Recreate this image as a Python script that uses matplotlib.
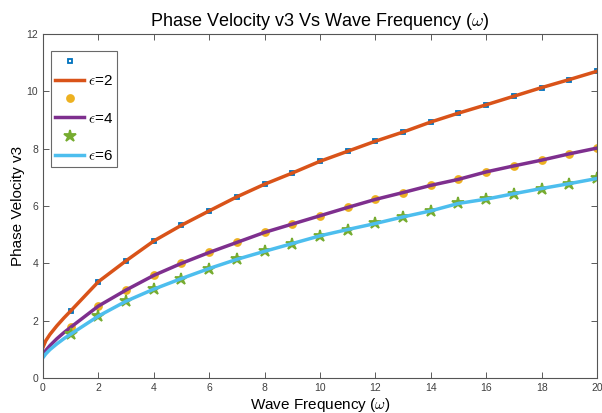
import matplotlib
matplotlib.use("Agg")
import matplotlib.pyplot as plt

plt.rcParams['font.family'] = ['Liberation Sans', 'DejaVu Sans']
plt.rcParams['mathtext.fontset'] = 'cm'

# marker data (integer frequencies)
omega_pts = list(range(1, 21))
v_eps2 = [2.34, 3.36, 4.09, 4.78, 5.33, 5.83, 6.32, 6.76, 7.15, 7.56,
          7.91, 8.26, 8.58, 8.93, 9.24, 9.53, 9.83, 10.13, 10.41, 10.70]
v_eps4 = [1.77, 2.51, 3.07, 3.58, 4.00, 4.38, 4.73, 5.08, 5.37, 5.66,
          5.95, 6.23, 6.47, 6.72, 6.93, 7.19, 7.40, 7.60, 7.82, 8.02]
v_eps6 = [1.53, 2.16, 2.68, 3.10, 3.47, 3.82, 4.14, 4.42, 4.69, 4.96,
          5.18, 5.39, 5.62, 5.83, 6.09, 6.24, 6.43, 6.61, 6.78, 6.96]

# curve start values (read near omega = 0)
omega_start = [0.0, 0.1, 0.25, 0.5, 0.75]
start_eps2 = [1.07, 1.30, 1.52, 1.82, 2.09]
start_eps4 = [0.80, 0.96, 1.13, 1.37, 1.58]
start_eps6 = [0.71, 0.84, 0.99, 1.19, 1.37]

labels = [r'$\epsilon$=2', r'$\epsilon$=4', r'$\epsilon$=6']
x_ticks = list(range(0, 21, 2))
y_ticks = list(range(0, 13, 2))

fig = plt.figure(figsize=(6.02, 4.13), dpi=100)
ax = fig.add_axes([0.0714, 0.0847, 0.9203, 0.833])

omega_line = omega_start + omega_pts
series = [
    (v_eps2, start_eps2, 's', '#0072BD', 'none', '#D95319', 3.5),
    (v_eps4, start_eps4, 'o', '#EDB120', '#EDB120', '#7E2F8E', 5),
    (v_eps6, start_eps6, '*', '#77AC30', '#77AC30', '#4DBEEE', 9),
]
handles = []
leg_labels = []
for (vals, start, mk, mcol, mface, lcol, ms), lab in zip(series, labels):
    mh, = ax.plot(omega_pts, vals, linestyle='none', marker=mk, markersize=ms,
                  markeredgecolor=mcol, markerfacecolor=mface, markeredgewidth=1.3)
    lh, = ax.plot(omega_line, start + vals, color=lcol, linewidth=2.5)
    handles += [mh, lh]
    leg_labels += [' ', lab]

ax.set_xlim(0, 20)
ax.set_ylim(0, 12)
ax.set_xticks(x_ticks)
ax.set_yticks(y_ticks)
ax.tick_params(direction='in', top=True, right=True, labelsize=7.5,
               labelcolor='#404040', color='#404040', length=4, width=0.6)
for s in ax.spines.values():
    s.set_color('#555555')
    s.set_linewidth(0.8)

ax.set_title(r'Phase Velocity v3 Vs Wave Frequency ($\omega$)', fontsize=13, pad=6)
ax.set_xlabel(r'Wave Frequency ($\omega$)', fontsize=11, labelpad=2)
ax.set_ylabel('Phase Velocity v3', fontsize=11, labelpad=1)

leg = ax.legend(handles, leg_labels, loc='upper left', bbox_to_anchor=(0.015, 0.95),
                fontsize=11, frameon=True, fancybox=False, handlelength=1.9,
                handletextpad=0.25, borderpad=0.25, labelspacing=0.32, borderaxespad=0)
leg.get_frame().set_edgecolor('#444444')
leg.get_frame().set_linewidth(0.8)

fig.savefig('out.png', dpi=100)
